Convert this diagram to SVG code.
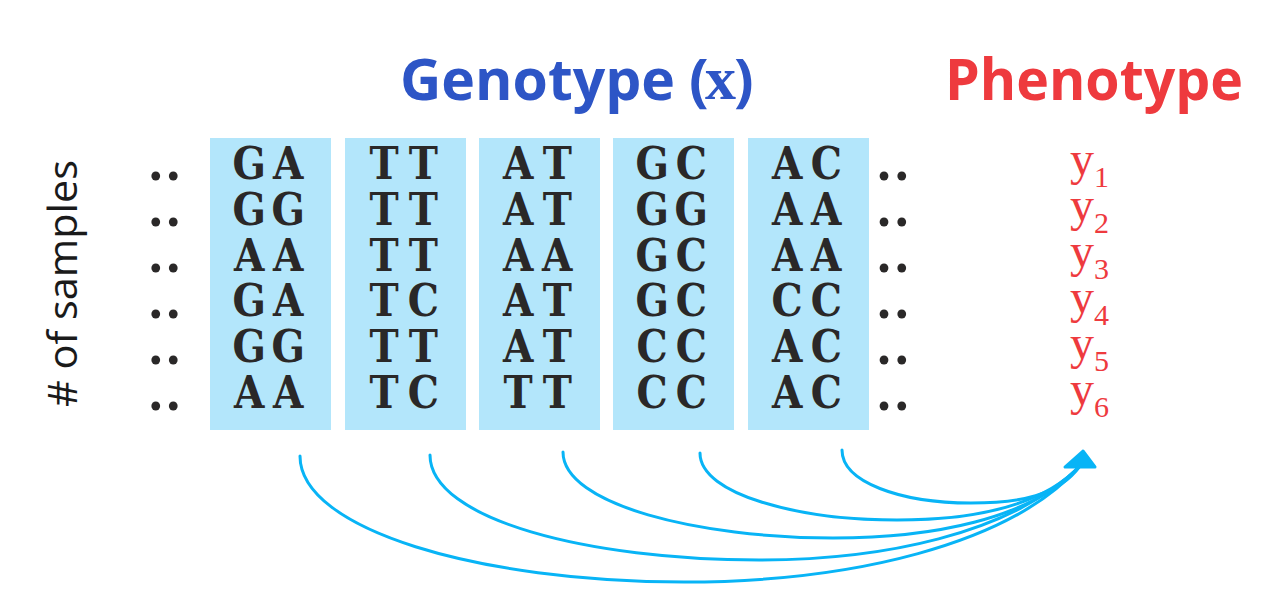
<svg xmlns="http://www.w3.org/2000/svg" width="1287" height="613" viewBox="0 0 1287 613">
<style>
.col{fill:#B3E6FB}
.gt{font-family:"DejaVu Serif",serif;font-weight:bold;font-size:44px;fill:#2A2828;text-anchor:middle}
.dots{font-family:"Liberation Serif","Times New Roman",serif;font-weight:bold;font-size:54px;fill:#2A2828;letter-spacing:4.1px}
.ph{font-family:"Liberation Serif","Times New Roman",serif;font-size:48px;fill:#EE3A3E}
.sub{font-size:30px}
.conn{fill:none;stroke:#08B4F6;stroke-width:3;stroke-linecap:round}
.title{font-family:"Open Sans","Noto Sans",sans-serif;font-weight:bold;font-size:58px}
</style>
<rect width="1287" height="613" fill="#FFFFFF"/>
<g id="title-genotype">
<text class="title" x="400" y="100" fill="#2D55C6" textLength="275" lengthAdjust="spacingAndGlyphs">Genotype</text>
<text class="title" x="689" y="100" fill="#2D55C6">(</text>
<text x="705" y="99" font-family="Liberation Serif,serif" font-weight="bold" font-size="62" fill="#2D55C6">x</text>
<text class="title" x="734" y="100" fill="#2D55C6">)</text>
</g>
<g id="title-phenotype">
<text class="title" x="945" y="100" fill="#EE3A3E" textLength="298" lengthAdjust="spacingAndGlyphs">Phenotype</text>
</g>
<g id="samples-label">
<text transform="translate(77,283.5) rotate(-90)" font-family="Open Sans,Noto Sans,sans-serif" font-size="41" fill="#1A1A1A" text-anchor="middle" textLength="247" lengthAdjust="spacingAndGlyphs"># of samples</text>
</g>
<g id="left-dots">
<text class="dots" x="149" y="180">..</text>
<text class="dots" x="149" y="226">..</text>
<text class="dots" x="149" y="272">..</text>
<text class="dots" x="149" y="318">..</text>
<text class="dots" x="149" y="364">..</text>
<text class="dots" x="149" y="410">..</text>
</g>
<g id="snp1">
<rect class="col" x="210" y="138" width="121" height="292"/>
<g transform="translate(270.5,0) scale(0.89,1)">
<text class="gt" x="-24 20" y="179">GA</text>
<text class="gt" x="-24 20" y="224.8">GG</text>
<text class="gt" x="-24 20" y="270.6">AA</text>
<text class="gt" x="-24 20" y="316.4">GA</text>
<text class="gt" x="-24 20" y="362.2">GG</text>
<text class="gt" x="-24 20" y="408">AA</text>
</g>
</g>
<g id="snp2">
<rect class="col" x="345" y="138" width="121" height="292"/>
<g transform="translate(405.5,0) scale(0.89,1)">
<text class="gt" x="-24 20" y="179">TT</text>
<text class="gt" x="-24 20" y="224.8">TT</text>
<text class="gt" x="-24 20" y="270.6">TT</text>
<text class="gt" x="-24 20" y="316.4">TC</text>
<text class="gt" x="-24 20" y="362.2">TT</text>
<text class="gt" x="-24 20" y="408">TC</text>
</g>
</g>
<g id="snp3">
<rect class="col" x="479" y="138" width="121" height="292"/>
<g transform="translate(539.5,0) scale(0.89,1)">
<text class="gt" x="-24 20" y="179">AT</text>
<text class="gt" x="-24 20" y="224.8">AT</text>
<text class="gt" x="-24 20" y="270.6">AA</text>
<text class="gt" x="-24 20" y="316.4">AT</text>
<text class="gt" x="-24 20" y="362.2">AT</text>
<text class="gt" x="-24 20" y="408">TT</text>
</g>
</g>
<g id="snp4">
<rect class="col" x="613" y="138" width="121" height="292"/>
<g transform="translate(673.5,0) scale(0.89,1)">
<text class="gt" x="-24 20" y="179">GC</text>
<text class="gt" x="-24 20" y="224.8">GG</text>
<text class="gt" x="-24 20" y="270.6">GC</text>
<text class="gt" x="-24 20" y="316.4">GC</text>
<text class="gt" x="-24 20" y="362.2">CC</text>
<text class="gt" x="-24 20" y="408">CC</text>
</g>
</g>
<g id="snp5">
<rect class="col" x="748" y="138" width="121" height="292"/>
<g transform="translate(808.5,0) scale(0.89,1)">
<text class="gt" x="-24 20" y="179">AC</text>
<text class="gt" x="-24 20" y="224.8">AA</text>
<text class="gt" x="-24 20" y="270.6">AA</text>
<text class="gt" x="-24 20" y="316.4">CC</text>
<text class="gt" x="-24 20" y="362.2">AC</text>
<text class="gt" x="-24 20" y="408">AC</text>
</g>
</g>
<g id="right-dots">
<text class="dots" x="877.3" y="180">..</text>
<text class="dots" x="877.3" y="226">..</text>
<text class="dots" x="877.3" y="272">..</text>
<text class="dots" x="877.3" y="318">..</text>
<text class="dots" x="877.3" y="364">..</text>
<text class="dots" x="877.3" y="410">..</text>
</g>
<g id="phenotypes">
<text class="ph" x="1070" y="174.5">y<tspan class="sub" dy="12">1</tspan></text>
<text class="ph" x="1070" y="220.5">y<tspan class="sub" dy="12">2</tspan></text>
<text class="ph" x="1070" y="266.5">y<tspan class="sub" dy="12">3</tspan></text>
<text class="ph" x="1070" y="312.5">y<tspan class="sub" dy="12">4</tspan></text>
<text class="ph" x="1070" y="358.5">y<tspan class="sub" dy="12">5</tspan></text>
<text class="ph" x="1070" y="404.5">y<tspan class="sub" dy="12">6</tspan></text>
</g>
<g id="connectors">
<path class="conn" d="M300,456 C300,530 480,582 684,582 C850,582 1010,545 1080,466"/>
<path class="conn" d="M430,455 C430,520 590,560 759,560 C880,560 1010,535 1080,466"/>
<path class="conn" d="M563,452 C563,505 700,538 833,538 C930,538 1030,520 1080,466"/>
<path class="conn" d="M700,453 C700,495 800,520 897,520 C970,520 1040,508 1080,466"/>
<path class="conn" d="M842,450 C842,482 900,503 971,503 C1020,503 1058,496 1080,466"/>
<polygon points="1083,451 1065,467 1095,467" fill="#08B4F6" stroke="#08B4F6" stroke-width="3" stroke-linejoin="round"/>
</g>
</svg>
